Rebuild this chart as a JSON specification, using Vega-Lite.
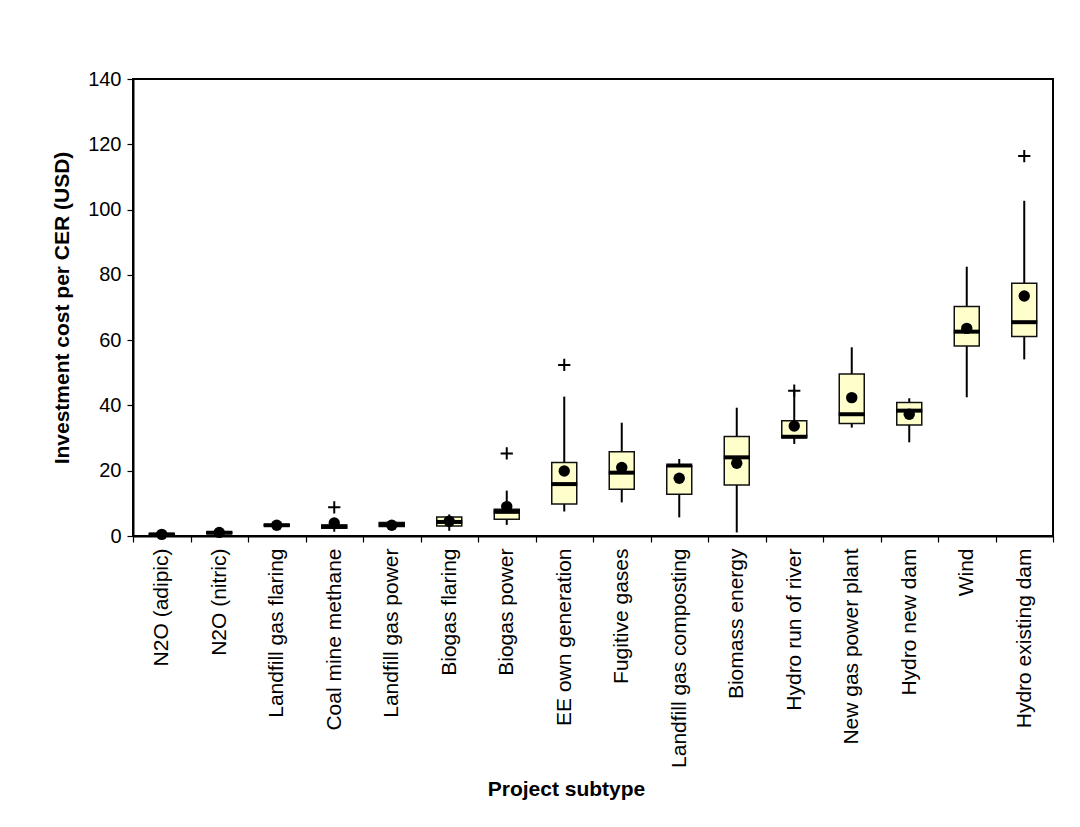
{
  "$schema": "https://vega.github.io/schema/vega-lite/v6.json",
  "width": 920,
  "height": 457,
  "autosize": {"type": "none"},
  "padding": {"left": 133, "top": 79, "right": 27, "bottom": 291},
  "background": "white",
  "config": {
    "font": "Liberation Sans",
    "view": {"stroke": "black", "strokeWidth": 2},
    "axis": {
      "grid": false,
      "domainColor": "black",
      "domainWidth": 2,
      "tickColor": "black",
      "tickWidth": 1.2,
      "tickSize": 6,
      "labelColor": "black",
      "labelFont": "Liberation Sans",
      "labelFontSize": 20,
      "labelLimit": 400,
      "titleColor": "black",
      "titleFont": "Liberation Sans",
      "titleFontSize": 21,
      "titleFontWeight": "bold"
    }
  },
  "datasets": {
    "boxes": [
      {"subtype": "N2O (adipic)", "lo": 0.2, "q1": 0.3, "median": 0.5, "q3": 0.6, "hi": 0.8, "mean": 0.5},
      {"subtype": "N2O (nitric)", "lo": 0.6, "q1": 0.8, "median": 1.0, "q3": 1.2, "hi": 1.4, "mean": 1.1},
      {"subtype": "Landfill gas flaring", "lo": 3.0, "q1": 3.1, "median": 3.3, "q3": 3.5, "hi": 3.6, "mean": 3.3},
      {"subtype": "Coal mine methane", "lo": 1.3, "q1": 2.4, "median": 2.9, "q3": 3.4, "hi": 4.5, "mean": 4.0},
      {"subtype": "Landfill gas power", "lo": 2.8, "q1": 2.9, "median": 3.5, "q3": 4.1, "hi": 4.8, "mean": 3.3},
      {"subtype": "Biogas flaring", "lo": 1.6, "q1": 3.1, "median": 4.3, "q3": 5.8, "hi": 6.6, "mean": 4.5},
      {"subtype": "Biogas power", "lo": 3.4, "q1": 5.1, "median": 7.4, "q3": 8.2, "hi": 13.9, "mean": 9.0},
      {"subtype": "EE own generation", "lo": 7.5, "q1": 9.8, "median": 15.9, "q3": 22.5, "hi": 42.7, "mean": 19.9},
      {"subtype": "Fugitive gases", "lo": 10.3, "q1": 14.3, "median": 19.4, "q3": 25.8, "hi": 34.7, "mean": 21.0},
      {"subtype": "Landfill gas composting", "lo": 5.7, "q1": 12.8, "median": 21.6, "q3": 21.5, "hi": 23.6, "mean": 17.7},
      {"subtype": "Biomass energy", "lo": 1.1, "q1": 15.6, "median": 24.1, "q3": 30.5, "hi": 39.3, "mean": 22.3},
      {"subtype": "Hydro run of river", "lo": 28.2, "q1": 30.2, "median": 30.4, "q3": 35.3, "hi": 44.5, "mean": 33.7},
      {"subtype": "New gas power plant", "lo": 33.2, "q1": 34.5, "median": 37.3, "q3": 49.6, "hi": 57.8, "mean": 42.4},
      {"subtype": "Hydro new dam", "lo": 28.7, "q1": 34.0, "median": 38.4, "q3": 40.9, "hi": 42.2, "mean": 37.3},
      {"subtype": "Wind", "lo": 42.5, "q1": 58.2, "median": 62.6, "q3": 70.3, "hi": 82.5, "mean": 63.6},
      {"subtype": "Hydro existing dam", "lo": 54.1, "q1": 61.1, "median": 65.5, "q3": 77.4, "hi": 102.7, "mean": 73.5}
    ],
    "outliers": [
      {"subtype": "Coal mine methane", "value": 8.8},
      {"subtype": "Biogas power", "value": 25.3},
      {"subtype": "EE own generation", "value": 52.4},
      {"subtype": "Hydro run of river", "value": 44.5},
      {"subtype": "Hydro existing dam", "value": 116.4}
    ]
  },
  "encoding": {
    "x": {
      "field": "subtype",
      "type": "nominal",
      "scale": {
        "domain": ["N2O (adipic)", "N2O (nitric)", "Landfill gas flaring", "Coal mine methane", "Landfill gas power", "Biogas flaring", "Biogas power", "EE own generation", "Fugitive gases", "Landfill gas composting", "Biomass energy", "Hydro run of river", "New gas power plant", "Hydro new dam", "Wind", "Hydro existing dam"],
        "paddingInner": 0,
        "paddingOuter": 0
      },
      "axis": {
        "title": "Project subtype",
        "labelAngle": -90,
        "labelFontSize": 21,
        "labelPadding": 6,
        "tickBand": "extent",
        "titleX": 433,
        "titleY": 259,
        "titleBaseline": "alphabetic"
      }
    }
  },
  "layer": [
    {
      "data": {"name": "boxes"},
      "mark": {"type": "rule", "color": "black", "strokeWidth": 2},
      "encoding": {
        "y": {
          "field": "lo",
          "type": "quantitative",
          "scale": {"domain": [0, 140], "nice": false},
          "axis": {
            "title": "Investment cost per CER (USD)",
            "values": [0, 20, 40, 60, 80, 100, 120, 140],
            "labelPadding": 6,
            "titlePadding": 15
          }
        },
        "y2": {"field": "hi"}
      }
    },
    {
      "data": {"name": "boxes"},
      "mark": {"type": "bar", "size": 25, "fill": "#FFFFCC", "stroke": "#111111", "strokeWidth": 1.5},
      "encoding": {
        "y": {"field": "q1", "type": "quantitative"},
        "y2": {"field": "q3"}
      }
    },
    {
      "data": {"name": "boxes"},
      "mark": {"type": "tick", "color": "black", "thickness": 4, "size": 26, "opacity": 1},
      "encoding": {
        "y": {"field": "median", "type": "quantitative"}
      }
    },
    {
      "data": {"name": "boxes"},
      "mark": {"type": "point", "shape": "circle", "filled": true, "color": "black", "size": 130, "opacity": 1},
      "encoding": {
        "y": {"field": "mean", "type": "quantitative"}
      }
    },
    {
      "data": {"name": "outliers"},
      "mark": {"type": "point", "shape": "M-1,0H1M0,-1V1", "filled": false, "stroke": "black", "strokeWidth": 2, "size": 150, "opacity": 1},
      "encoding": {
        "y": {"field": "value", "type": "quantitative"}
      }
    }
  ]
}
